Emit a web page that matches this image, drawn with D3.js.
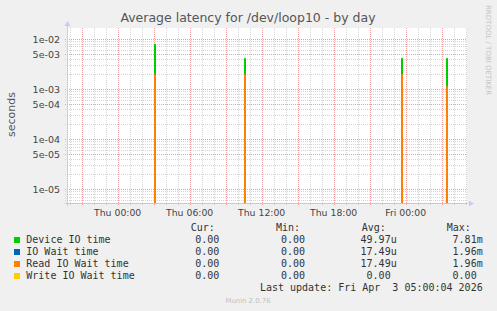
<!DOCTYPE html>
<html>
<head>
<meta charset="utf-8">
<script src="https://cdn.jsdelivr.net/npm/d3@7"></script>
<style>
  body { margin: 0; background: #f0f0f0; }
  svg { display: block; font-family: "DejaVu Sans", sans-serif; }
  .legend { font-family: "DejaVu Sans Mono", monospace; font-size: 10px; fill: #333; }
</style>
</head>
<body>
<div id="graphic"></div>
<script>
(function(d3){

    // Sample times around each spike (5 minute steps), plus the two ends
    let sampleTimes = [
        '2026-04-01 19:45',
        '2026-04-02 03:00', '2026-04-02 03:05', '2026-04-02 03:10',
        '2026-04-02 10:30', '2026-04-02 10:35', '2026-04-02 10:40',
        '2026-04-02 23:35', '2026-04-02 23:40', '2026-04-02 23:45',
        '2026-04-03 03:20', '2026-04-03 03:25', '2026-04-03 03:30',
        '2026-04-03 05:05'
    ];

    // Latency in seconds for each sample
    let deviceIO  = [0, 0, 7.81e-3, 0, 0, 4.05e-3, 0, 0, 4.07e-3, 0, 0, 4.06e-3, 0, 0];
    let ioWait    = [0, 0, 1.96e-3, 0, 0, 1.95e-3, 0, 0, 1.96e-3, 0, 0, 1.12e-3, 0, 0];
    let readWait  = [0, 0, 1.96e-3, 0, 0, 1.95e-3, 0, 0, 1.96e-3, 0, 0, 1.12e-3, 0, 0];
    let writeWait = [0, 0, 0, 0, 0, 0, 0, 0, 0, 0, 0, 0, 0, 0];

    // Legend rows
    let seriesNames  = ['Device IO time', 'IO Wait time', 'Read IO Wait time', 'Write IO Wait time'];
    let seriesColors = ['#00cc00', '#0066b3', '#ff8000', '#ffcc00'];
    let curValues = ['0.00', '0.00', '0.00', '0.00'];
    let minValues = ['0.00', '0.00', '0.00', '0.00'];
    let avgValues = ['49.97u', '17.49u', '17.49u', '0.00 '];
    let maxValues = ['7.81m', '1.96m', '1.96m', '0.00 '];

    // Canvas size and plot area
    let width = 497, height = 311;
    let left = 67, right = 467, top = 28, bottom = 203;

    let parseTime = d3.timeParse('%Y-%m-%d %H:%M');

    let svg = d3.select('#graphic')
                .append('svg')
                .attr('width', width)
                .attr('height', height);

    svg.append('rect')
       .attr('width', width).attr('height', height)
       .attr('fill', '#f0f0f0');

    svg.append('rect')
       .attr('x', left).attr('y', top)
       .attr('width', right - left).attr('height', bottom - top)
       .attr('fill', '#ffffff');

    // Scales
    let x = d3.scaleTime()
        .domain([new Date(2026, 3, 1, 19, 46, 40), new Date(2026, 3, 3, 5, 6, 40)])
        .range([left, right]);

    let y = d3.scaleLog()
        .domain([5.2e-6, 1.64e-2])
        .range([bottom, top])
        .clamp(true);

    // Vertical grid: every hour, red every 3 hours
    let hours = d3.timeHour.every(1).range(x.domain()[0], x.domain()[1]);
    hours.forEach(h => {
        let major = h.getHours() % 3 === 0;
        let px = Math.round(x(h)) + 0.5;
        svg.append('line')
           .attr('x1', px).attr('x2', px)
           .attr('y1', top).attr('y2', bottom + 3)
           .attr('stroke', major ? '#f0a0a0' : '#d4d4d4')
           .attr('stroke-dasharray', '1,1');
    });

    // Horizontal grid: 1..9 per decade, red at 1 and 5
    let ticks = [];
    for(let e = -6; e <= -2; e++) {
        for(let m = 1; m <= 9; m++) {
            let v = m * Math.pow(10, e);
            if(v >= y.domain()[0] && v <= y.domain()[1]) ticks.push({ v: v, m: m, e: e });
        }
    }
    ticks.forEach(t => {
        let major = (t.m === 1 || t.m === 5);
        let py = Math.round(y(t.v)) + 0.5;
        svg.append('line')
           .attr('x1', left - 2).attr('x2', right)
           .attr('y1', py).attr('y2', py)
           .attr('stroke', major ? '#f0a0a0' : '#d4d4d4')
           .attr('stroke-dasharray', '1,1');
        if(major) {
            svg.append('text')
               .attr('x', left - 7)
               .attr('y', py + 3.5)
               .attr('text-anchor', 'end')
               .style('font-size', '9.5px')
               .attr('fill', '#444')
               .text(t.m + 'e-' + String(-t.e).padStart(2, '0'));
        }
    });

    // X labels every 6 hours
    let fmt = d3.timeFormat('%a %H:%M');
    d3.timeHour.every(6).range(x.domain()[0], x.domain()[1]).forEach(h => {
        svg.append('text')
           .attr('x', x(h))
           .attr('y', 215.5)
           .attr('text-anchor', 'middle')
           .style('font-size', '9.3px')
           .attr('fill', '#444')
           .text(fmt(h));
    });

    // Series lines, drawn as steps like rrdtool does (zero sits on the floor)
    let times = sampleTimes.map(parseTime);
    let line = d3.line()
        .x((d, i) => Math.round(x(times[i])) - 0.5)
        .y(d => d > 0 ? y(d) : bottom + 0.5)
        .curve(d3.curveStepAfter);

    [deviceIO, ioWait, readWait, writeWait].forEach((s, i) => {
        svg.append('path')
           .attr('d', line(s))
           .attr('fill', 'none')
           .attr('stroke', seriesColors[i])
           .attr('stroke-width', 1);
    });

    // Axes with arrows
    let axisColor = '#c8cdf0';
    svg.append('line')
       .attr('x1', left + 0.5).attr('x2', left + 0.5)
       .attr('y1', bottom + 3).attr('y2', top - 4)
       .attr('stroke', axisColor);
    svg.append('path')
       .attr('d', `M${left - 2.5},${top - 2} L${left + 0.5},${top - 7} L${left + 3.5},${top - 2} Z`)
       .attr('fill', axisColor);
    svg.append('line')
       .attr('x1', left - 3).attr('x2', right + 4)
       .attr('y1', bottom + 0.5).attr('y2', bottom + 0.5)
       .attr('stroke', axisColor).attr('stroke-opacity', 0.5);
    svg.append('path')
       .attr('d', `M${right + 2},${bottom - 2.5} L${right + 7},${bottom + 0.5} L${right + 2},${bottom + 3.5} Z`)
       .attr('fill', axisColor);

    // Title
    svg.append('text')
       .attr('x', 248).attr('y', 22.3)
       .attr('text-anchor', 'middle')
       .style('font-size', '12.5px')
       .attr('fill', '#555')
       .text('Average latency for /dev/loop10 - by day');

    // Vertical unit label
    svg.append('text')
       .attr('transform', 'translate(15 114.5) rotate(-90)')
       .attr('text-anchor', 'middle')
       .style('font-size', '11px')
       .attr('fill', '#555')
       .text('seconds');

    // Watermark on the right
    svg.append('text')
       .attr('transform', 'translate(485.5 5) rotate(90)')
       .style('font-size', '7px')
       .attr('fill', '#c4c4c4')
       .text('RRDTOOL / TOBI OETIKER');

    // Legend header
    let headerY = 231.3;
    [['Cur:', 190.7], ['Min:', 276], ['Avg:', 361.7], ['Max:', 446.7]].forEach(h => {
        svg.append('text').attr('class', 'legend')
           .attr('x', h[1]).attr('y', headerY)
           .text(h[0]);
    });

    // Legend rows
    seriesNames.forEach((name, i) => {
        let by = 243.3 + i * 12;
        svg.append('rect')
           .attr('x', 14).attr('y', by - 6.3)
           .attr('width', 6).attr('height', 6)
           .attr('fill', seriesColors[i]);
        svg.append('text').attr('class', 'legend')
           .attr('x', 26.3).attr('y', by)
           .text(name);
        [[curValues, 219.3], [minValues, 305], [avgValues, 396.7], [maxValues, 482.7]].forEach(c => {
            svg.append('text').attr('class', 'legend')
               .attr('x', c[1]).attr('y', by)
               .attr('text-anchor', 'end')
               .style('white-space', 'pre')
               .text(c[0][i]);
        });
    });

    svg.append('text').attr('class', 'legend')
       .attr('x', 482.7).attr('y', 291.3)
       .attr('text-anchor', 'end')
       .style('white-space', 'pre')
       .text('Last update: Fri Apr  3 05:00:04 2026');

    svg.append('text')
       .attr('x', 248).attr('y', 302.5)
       .attr('text-anchor', 'middle')
       .style('font-size', '6.9px')
       .attr('fill', '#c0c0c0')
       .text('Munin 2.0.76');

})(window.d3);
</script>
</body>
</html>
